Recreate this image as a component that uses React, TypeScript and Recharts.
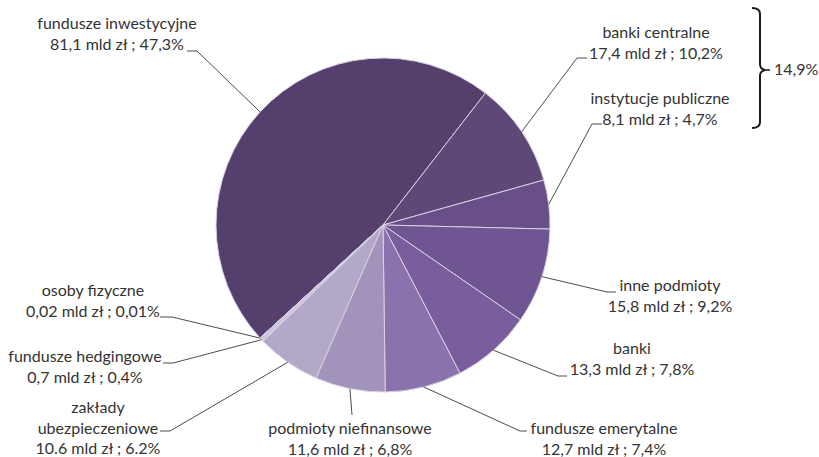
import { Cell, Pie, PieChart } from "recharts";

const sectors = [
  "fundusze inwestycyjne",
  "banki centralne",
  "instytucje publiczne",
  "inne podmioty",
  "banki",
  "fundusze emerytalne",
  "podmioty niefinansowe",
  "zakłady ubezpieczeniowe",
  "fundusze hedgingowe",
  "osoby fizyczne",
];

// mld zł
const amounts = [81.1, 17.4, 8.1, 15.8, 13.3, 12.7, 11.6, 10.6, 0.7, 0.02];

const valueLabels = [
  "81,1 mld zł ; 47,3%",
  "17,4 mld zł ; 10,2%",
  "8,1 mld zł ; 4,7%",
  "15,8 mld zł ; 9,2%",
  "13,3 mld zł ; 7,8%",
  "12,7 mld zł ; 7,4%",
  "11,6 mld zł ; 6,8%",
  "10.6 mld zł ; 6.2%",
  "0,7 mld zł ; 0,4%",
  "0,02 mld zł ; 0,01%",
];

const sliceColors = [
  "#553f6c",
  "#5e4878",
  "#684f87",
  "#6f5592",
  "#7a5d9d",
  "#8a73ad",
  "#a193ba",
  "#b3a8c8",
  "#cdc6db",
  "#ddd8e7",
];

const bracketLabel = "14,9%";

// label layout: text centre x, first baseline, leader elbow + end
const labelLayout = [
  { lines: ["fundusze inwestycyjne"], x: 117, y: 29, elbow: [197, 51], end: [187, 51] },
  { lines: ["banki centralne"], x: 656, y: 38, elbow: [577, 58], end: [587, 58] },
  { lines: ["instytucje publiczne"], x: 660, y: 104, elbow: [592, 124], end: [602, 124] },
  { lines: ["inne podmioty"], x: 670, y: 291, elbow: [607, 292], end: [616, 292] },
  { lines: ["banki"], x: 632, y: 354, elbow: [558, 376], end: [567, 376] },
  { lines: ["fundusze emerytalne"], x: 604, y: 434, elbow: [520, 431], end: [527, 431] },
  { lines: ["podmioty niefinansowe"], x: 350, y: 434, elbow: [352, 415], end: [352, 415] },
  { lines: ["zakłady", "ubezpieczeniowe"], x: 98, y: 413, elbow: [170, 431], end: [160, 431] },
  { lines: ["fundusze hedgingowe"], x: 85, y: 362, elbow: [173, 363], end: [163, 363] },
  { lines: ["osoby fizyczne"], x: 93, y: 296, elbow: [172, 317], end: [160, 317] },
];

const data = sectors.map((name, i) => ({ name, value: amounts[i], label: valueLabels[i] }));

const CX = 383;
const CY = 225;
const R = 167;
const RAD = Math.PI / 180;
const FONT = "Lato, 'Open Sans', sans-serif";

function renderLabel(props: any) {
  const { index, midAngle } = props;
  const cx = props.cx ?? CX;
  const cy = props.cy ?? CY;
  const r = props.outerRadius ?? R;
  const layout = labelLayout[index];
  const sx = cx + r * Math.cos(-midAngle * RAD);
  const sy = cy + r * Math.sin(-midAngle * RAD);
  const lines = [...layout.lines, data[index].label];
  return (
    <g key={`lbl-${index}`}>
      <polyline
        points={`${sx},${sy} ${layout.elbow[0]},${layout.elbow[1]} ${layout.end[0]},${layout.end[1]}`}
        fill="none"
        stroke="#4d4d4d"
        strokeWidth={1}
      />
      {lines.map((line, li) => (
        <text
          key={li}
          x={layout.x}
          y={layout.y + li * 20.5}
          textAnchor="middle"
          fill="#333333"
          fontSize={16}
          fontFamily={FONT}
        >
          {line}
        </text>
      ))}
    </g>
  );
}

export default function App() {
  return (
    <div style={{ position: "relative", width: 819, height: 457, background: "#fff" }}>
      <style>{`body { margin: 0; }`}</style>
      <PieChart width={819} height={457} margin={{ top: 0, right: 0, bottom: 0, left: 0 }}>
        <Pie
          data={data}
          dataKey="value"
          nameKey="name"
          cx={CX}
          cy={CY}
          outerRadius={R}
          startAngle={-137.4}
          endAngle={-497.4}
          stroke="#d8d0e4"
          strokeWidth={1}
          label={renderLabel}
          labelLine={false}
          isAnimationActive={false}
        >
          {data.map((d, i) => (
            <Cell key={d.name} fill={sliceColors[i]} />
          ))}
        </Pie>
      </PieChart>
      <svg
        width={819}
        height={457}
        style={{ position: "absolute", left: 0, top: 0, pointerEvents: "none" }}
      >
        <path
          d="M 752 8 Q 760 8 760 14 L 760 64 Q 760 69 765 70 Q 760 71 760 76 L 760 122 Q 760 128 752 128"
          fill="none"
          stroke="#1a1a1a"
          strokeWidth={2}
        />
        <line x1={765} y1={70} x2={770} y2={70} stroke="#1a1a1a" strokeWidth={1.5} />
        <text x={774} y={75} fill="#333333" fontSize={16} fontFamily={FONT}>
          {bracketLabel}
        </text>
      </svg>
    </div>
  );
}
